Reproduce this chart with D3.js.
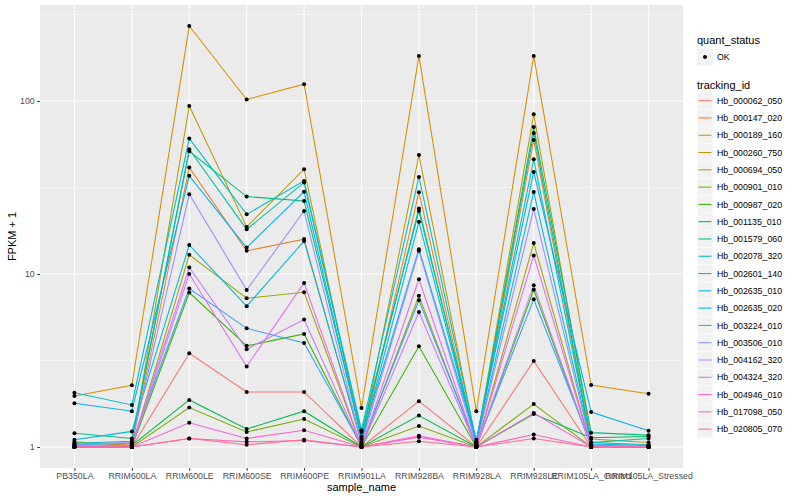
<!DOCTYPE html>
<html lang="en">
<head>
    <meta charset="UTF-8">
    <title>FPKM by sample</title>
    <script src="https://cdn.jsdelivr.net/npm/d3@7"></script>
    <style>
        body { margin: 0; background: #fff; }
        text { font-family: "Liberation Sans", Arial, sans-serif; }
        .tick text { fill: #4d4d4d; font-size: 8.8px; }
        .tick line { stroke: #333; }
        .domain { display: none; }
        .title { font-size: 11px; fill: #000; }
        .lab { font-size: 8.8px; fill: #000; }
    </style>
</head>
<body>
    <svg id="chart" width="800" height="500"></svg>
    <script>
        // samples on the x axis
        const samples = ["PB350LA", "RRIM600LA", "RRIM600LE", "RRIM600SE", "RRIM600PE", "RRIM901LA",
            "RRIM928BA", "RRIM928LA", "RRIM928LE", "RRIM105LA_Control", "RRIM105LA_Stressed"]

        const trackingIds = ["Hb_000062_050", "Hb_000147_020", "Hb_000189_160", "Hb_000260_750", "Hb_000694_050",
            "Hb_000901_010", "Hb_000987_020", "Hb_001135_010", "Hb_001579_060", "Hb_002078_320",
            "Hb_002601_140", "Hb_002635_010", "Hb_002635_020", "Hb_003224_010", "Hb_003506_010",
            "Hb_004162_320", "Hb_004324_320", "Hb_004946_010", "Hb_017098_050", "Hb_020805_070"]

        // FPKM + 1, one row per tracking id, one column per sample
        const fpkm = [
            [1.00, 1.00, 3.48, 2.08, 2.08, 1.00, 1.84, 1.00, 3.14, 1.00, 1.00],
            [1.02, 1.03, 41.2, 13.6, 15.9, 1.05, 29.7, 1.02, 59.5, 1.02, 1.00],
            [1.97, 2.27, 271, 102, 125, 1.68, 182, 1.61, 182, 2.28, 2.03],
            [1.07, 1.02, 93.6, 18.7, 40.3, 1.10, 48.7, 1.05, 83.8, 1.11, 1.06],
            [1.00, 1.00, 12.9, 7.24, 7.84, 1.00, 7.48, 1.00, 15.1, 1.00, 1.00],
            [1.00, 1.00, 1.69, 1.22, 1.45, 1.00, 1.32, 1.00, 1.77, 1.00, 1.00],
            [1.00, 1.00, 7.81, 3.84, 4.50, 1.00, 3.82, 1.00, 8.10, 1.00, 1.00],
            [1.00, 1.02, 1.87, 1.27, 1.61, 1.00, 1.52, 1.00, 1.55, 1.13, 1.15],
            [1.20, 1.12, 51.2, 28.0, 26.4, 1.15, 23.9, 1.03, 70.7, 1.21, 1.17],
            [1.05, 1.08, 52.6, 18.1, 33.8, 1.22, 23.1, 1.06, 65.3, 1.06, 1.12],
            [2.06, 1.75, 60.6, 22.1, 34.5, 1.25, 36.4, 1.08, 46.0, 1.06, 1.03],
            [1.10, 1.23, 14.7, 6.51, 15.5, 1.07, 20.0, 1.04, 29.8, 1.04, 1.02],
            [1.79, 1.61, 36.9, 14.2, 29.9, 1.12, 13.9, 1.10, 38.9, 1.59, 1.24],
            [1.03, 1.05, 8.23, 4.85, 3.99, 1.02, 7.05, 1.02, 7.14, 1.03, 1.00],
            [1.04, 1.06, 28.9, 8.08, 23.1, 1.04, 13.6, 1.03, 23.7, 1.02, 1.01],
            [1.00, 1.02, 10.9, 3.67, 5.45, 1.00, 6.03, 1.00, 8.60, 1.00, 1.00],
            [1.00, 1.00, 10.0, 2.92, 8.87, 1.00, 9.32, 1.00, 12.8, 1.00, 1.00],
            [1.00, 1.00, 1.38, 1.12, 1.25, 1.00, 1.16, 1.00, 1.57, 1.00, 1.00],
            [1.00, 1.00, 1.12, 1.07, 1.09, 1.00, 1.14, 1.00, 1.18, 1.00, 1.00],
            [1.00, 1.00, 1.12, 1.03, 1.10, 1.00, 1.08, 1.00, 1.12, 1.00, 1.00]
        ]

        const yTicks = [1, 10, 100]
        const yMinor = [Math.pow(10, 0.5), Math.pow(10, 1.5), Math.pow(10, 2.5)]

        // ggplot default hue palette for 20 levels
        const palette = ["#F8766D", "#EA8331", "#D89000", "#C09B00", "#A3A500", "#7CAE00", "#39B600",
            "#00BB4E", "#00BF7D", "#00C1A3", "#00BFC4", "#00BAE0", "#00B0F6", "#35A2FF", "#9590FF",
            "#C77CFF", "#E76BF3", "#FA62DB", "#FF62BC", "#FF6C91"]

        const svg = d3.select("#chart")
        const panel = { left: 40, right: 683, top: 5, bottom: 468 }

        const colors = d3.scaleOrdinal().domain(trackingIds).range(palette)

        const x = d3.scalePoint().domain(samples).range([panel.left, panel.right]).padding(0.6)

        // log domain with 5% expansion like ggplot
        const logs = fpkm.flat().map(v => Math.log10(v))
        const lo = d3.min(logs), hi = d3.max(logs), pad = (hi - lo) * 0.05
        const y = d3.scaleLog().domain([Math.pow(10, lo - pad), Math.pow(10, hi + pad)]).range([panel.bottom, panel.top])

        svg.append("rect")
            .attr("x", panel.left).attr("y", panel.top)
            .attr("width", panel.right - panel.left).attr("height", panel.bottom - panel.top)
            .attr("fill", "#ebebeb")

        const grid = svg.append("g")
        grid.selectAll(".minor").data(yMinor).enter().append("line")
            .attr("x1", panel.left).attr("x2", panel.right)
            .attr("y1", d => y(d)).attr("y2", d => y(d))
            .attr("stroke", "#fff").attr("stroke-width", 0.55)
        grid.selectAll(".major").data(yTicks).enter().append("line")
            .attr("x1", panel.left).attr("x2", panel.right)
            .attr("y1", d => y(d)).attr("y2", d => y(d))
            .attr("stroke", "#fff").attr("stroke-width", 1.1)
        grid.selectAll(".vert").data(samples).enter().append("line")
            .attr("x1", d => x(d)).attr("x2", d => x(d))
            .attr("y1", panel.top).attr("y2", panel.bottom)
            .attr("stroke", "#fff").attr("stroke-width", 1.1)

        const line = d3.line().x((d, i) => x(samples[i])).y(d => y(d))
        svg.append("g").selectAll("path").data(fpkm).enter().append("path")
            .attr("d", line)
            .attr("fill", "none")
            .attr("stroke", (d, i) => colors(trackingIds[i]))
            .attr("stroke-width", 1.07)

        const pts = svg.append("g")
        fpkm.forEach(row => {
            pts.selectAll(null).data(row).enter().append("circle")
                .attr("cx", (d, i) => x(samples[i]))
                .attr("cy", d => y(d))
                .attr("r", 2)
                .attr("fill", "#000")
        })

        // axes
        svg.append("g").attr("transform", `translate(0,${panel.bottom})`)
            .call(d3.axisBottom(x).tickSize(2.75).tickPadding(2.5))
        svg.append("g").attr("transform", `translate(${panel.left},0)`)
            .call(d3.axisLeft(y).tickValues(yTicks).tickFormat(d3.format("d")).tickSize(2.75).tickPadding(2.5))

        svg.append("text").attr("class", "title")
            .attr("x", (panel.left + panel.right) / 2).attr("y", 491)
            .attr("text-anchor", "middle").text("sample_name")
        svg.append("text").attr("class", "title")
            .attr("transform", `translate(16,${(panel.top + panel.bottom) / 2}) rotate(-90)`)
            .attr("text-anchor", "middle").text("FPKM + 1")

        // legends
        const lg = svg.append("g").attr("transform", "translate(697,0)")
        lg.append("text").attr("class", "title").attr("x", 0).attr("y", 44).text("quant_status")
        lg.append("rect").attr("x", 0).attr("y", 48.5).attr("width", 16).attr("height", 17.3).attr("fill", "#f2f2f2")
        lg.append("circle").attr("cx", 8).attr("cy", 57).attr("r", 2).attr("fill", "#000")
        lg.append("text").attr("class", "lab").attr("x", 20).attr("y", 60.2).text("OK")

        lg.append("text").attr("class", "title").attr("x", 0).attr("y", 88.5).text("tracking_id")
        const key = lg.selectAll(".key").data(trackingIds).enter().append("g")
            .attr("transform", (d, i) => `translate(0,${92 + i * 17.29})`)
        key.append("rect").attr("width", 16).attr("height", 17.29).attr("fill", "#f2f2f2")
            .attr("stroke", "#fff").attr("stroke-width", 0.6)
        key.append("line").attr("x1", 1.5).attr("x2", 14.5).attr("y1", 8.65).attr("y2", 8.65)
            .attr("stroke", d => colors(d)).attr("stroke-width", 1.07)
        key.append("text").attr("class", "lab").attr("x", 20).attr("y", 11.8).text(d => d)
    </script>
</body>
</html>
